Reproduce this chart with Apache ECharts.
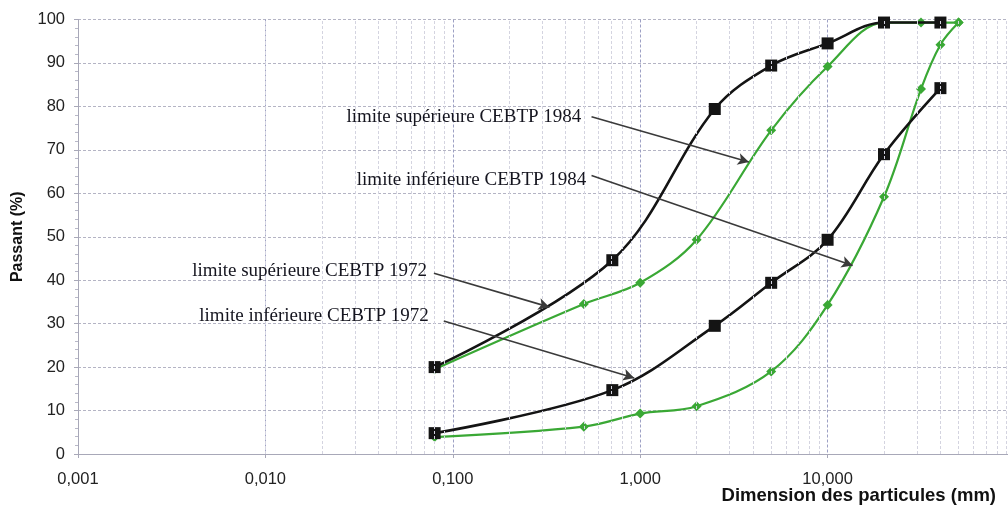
<!DOCTYPE html>
<html>
<head>
<meta charset="utf-8">
<script src="https://cdn.jsdelivr.net/npm/echarts@6/dist/echarts.min.js"></script>
<style>
html,body{margin:0;padding:0;background:#fff;}
#c{width:1008px;height:510px;}
</style>
</head>
<body>
<div id="c"></div>
<script>
// Data (x = sieve size in mm, y = % passing)
const sup1972 = [[0.08,20],[0.71,44.6],[2.5,79.4],[5,89.4],[10,94.5],[20,99.3],[40,99.3]];
const sup1984 = [[0.08,19.5],[0.5,34.5],[1,39.4],[2,49.3],[5,74.5],[10,89.2],[20,99.3],[31.5,99.3],[40,99.3],[50,99.3]];
const inf1972 = [[0.08,4.8],[0.71,14.7],[2.5,29.5],[5,39.4],[10,49.3],[20,69],[40,84.2]];
const inf1984 = [[0.08,3.9],[0.5,6.3],[1,9.3],[2,11],[5,19],[10,34.3],[20,59.2],[31.5,84],[40,94.2],[50,99.3]];

const xTickValues = [0.001,0.01,0.1,1,10];
const yTickLabels = [0,10,20,30,40,50,60,70,80,90,100];
const minorMultipliers = [2,3,4,5,6,7,8,9];
const decades = [0.001,0.01,0.1,1,10];

// Annotations
const annTexts = ['limite supérieure CEBTP 1984','limite inférieure CEBTP 1984','limite supérieure CEBTP 1972','limite inférieure CEBTP 1972'];
const annTextAt = [[0.485,77.5],[0.516,63],[0.0728,42.1],[0.0745,31.7]];
const annStarts = [[0.55,77.6],[0.55,64.1],[0.0793,41.6],[0.0895,30.6]];
const annEnds = [[3.8,67.2],[13.6,43.4],[0.328,33.8],[0.929,17.5]];

const minorVals = [];
decades.forEach(d => minorMultipliers.forEach(m => minorVals.push(+(d*m).toPrecision(3))));

const BLACK = '#141414';
const GREEN = '#3aa835';

const chart = echarts.init(document.getElementById('c'), null, {renderer:'canvas'});
const option = {
  animation:false,
  backgroundColor:'#ffffff',
  title:{
    text:'Dimension des particules (mm)', right:12, top:486, padding:0,
    textStyle:{fontFamily:'Liberation Sans, Arial', fontWeight:'bold', fontSize:18.5, color:'#111'}
  },
  grid:{left:78, right:-7, top:19.5, bottom:56, containLabel:false, outerBoundsMode:'none'},
  xAxis:{
    type:'log', logBase:10, min:0.001, max:100,
    axisLine:{show:true, lineStyle:{color:'#a8a8b8', width:1}},
    axisTick:{show:true, length:4, lineStyle:{color:'#a8a8b8'}},
    axisLabel:{fontFamily:'Liberation Sans, Arial', fontSize:16.5, color:'#222', margin:17,
      formatter:function(v){ if (v > 50) return ''; return v.toFixed(3).replace('.',','); }},
    splitLine:{show:true, lineStyle:{color:'#9da0c4', type:[3,2], width:1}}
  },
  yAxis:{
    type:'value', min:0, max:100, interval:10,
    name:'Passant (%)', nameLocation:'middle', nameGap:52, nameRotate:90,
    nameTextStyle:{fontFamily:'Liberation Sans, Arial', fontWeight:'bold', fontSize:16, color:'#111'},
    axisLine:{show:true, lineStyle:{color:'#a8a8b8', width:1}},
    axisTick:{show:true, length:4, lineStyle:{color:'#a8a8b8'}},
    minorTick:{show:true, splitNumber:5, length:3, lineStyle:{color:'#b8b8c8'}},
    axisLabel:{fontFamily:'Liberation Sans, Arial', fontSize:16.5, color:'#222', margin:13,
      formatter:function(v){ return yTickLabels.indexOf(v) >= 0 ? String(v) : ''; }},
    splitLine:{show:true, lineStyle:{color:'#b4b4c4', type:[3,2], width:1}}
  },
  series:[
    {
      type:'line', name:'minor grid', data:[], silent:true, z:0,
      markLine:{silent:true, symbol:['none','none'], label:{show:false},
        lineStyle:{color:'#d4d4e0', type:[3,2], width:1},
        emphasis:{disabled:true},
        data:minorVals.map(v => ({xAxis:v}))}
    },
    {
      type:'line', name:'limite supérieure CEBTP 1984', data:sup1984, smooth:0.35,
      symbol:'diamond', symbolSize:10, z:3,
      lineStyle:{color:GREEN, width:2.2}, itemStyle:{color:GREEN}
    },
    {
      type:'line', name:'limite inférieure CEBTP 1984', data:inf1984, smooth:0.35,
      symbol:'diamond', symbolSize:10, z:3,
      lineStyle:{color:GREEN, width:2.2}, itemStyle:{color:GREEN}
    },
    {
      type:'line', name:'limite supérieure CEBTP 1972', data:sup1972, smooth:0.35,
      symbol:'rect', symbolSize:12, z:4,
      lineStyle:{color:BLACK, width:2.6}, itemStyle:{color:BLACK}
    },
    {
      type:'line', name:'limite inférieure CEBTP 1972', data:inf1972, smooth:0.35,
      symbol:'rect', symbolSize:12, z:4,
      lineStyle:{color:BLACK, width:2.6}, itemStyle:{color:BLACK}
    },
    {
      type:'line', name:'annotations', data:[], silent:true, z:5,
      markLine:{silent:true, symbol:['none','arrow'], symbolSize:[9,11], label:{show:false},
        lineStyle:{color:'#3a3a3a', type:'solid', width:1.6},
        emphasis:{disabled:true},
        data:annStarts.map((s,i) => [{coord:s},{coord:annEnds[i]}])},
      markPoint:{silent:true, symbol:'circle', symbolSize:0,
        label:{show:true, position:'left', distance:0, color:'#15151f',
          fontFamily:'Liberation Serif, Times New Roman, serif', fontSize:19},
        data:annTextAt.map((s,i) => ({coord:s, value:annTexts[i], label:{formatter:annTexts[i]}}))}
    }
  ]
};
chart.setOption(option);
</script>
</body>
</html>
